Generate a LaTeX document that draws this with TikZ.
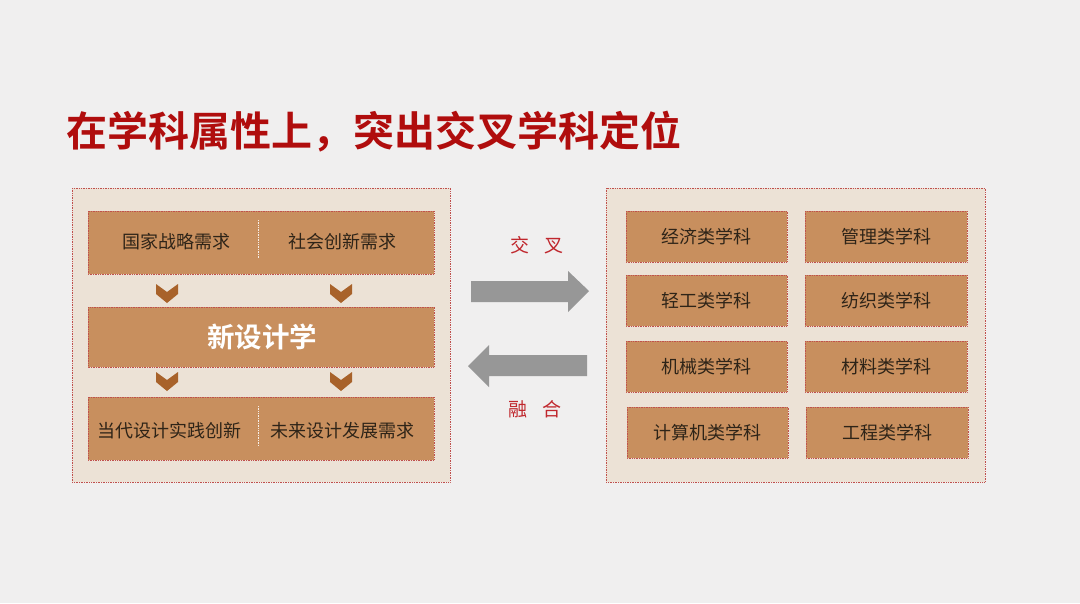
\documentclass[tikz,border=0pt]{standalone}
\usepackage{fontspec}
\newfontfamily\cjk{Noto Sans CJK SC}
\newfontfamily\cjkb{Noto Sans CJK SC Bold}
\usetikzlibrary{positioning}
\definecolor{bg}{HTML}{F0EFEF}
\definecolor{panel}{HTML}{ECE2D6}
\definecolor{boxc}{HTML}{C88F5E}
\definecolor{edge}{HTML}{C0504D}
\definecolor{chev}{HTML}{A8622A}
\definecolor{titler}{HTML}{B00D0D}
\definecolor{labr}{HTML}{C0272D}
\definecolor{arrg}{HTML}{979797}
\definecolor{txt}{HTML}{2E2418}
\tikzset{
  panelbox/.style={fill=panel,draw=edge,densely dotted,line width=0.7pt},
  cellbox/.style={fill=boxc,draw=edge,densely dotted,line width=0.7pt},
  celltext/.style={font=\cjk\fontsize{18}{21}\selectfont,text=txt,inner sep=0pt},
  divline/.style={draw=white!85!boxc,densely dotted,line width=0.7pt},
  chevron/.style={fill=chev,draw=none},
  bigarrow/.style={fill=arrg,draw=none},
  arrlabel/.style={font=\cjk\fontsize{19}{21}\selectfont,text=labr,inner sep=0pt}
}
\begin{document}
\begin{tikzpicture}[x=1pt,y=-1pt]
\useasboundingbox[fill=bg] (0,0) rectangle (1080,603);
% title
\node[anchor=west,inner sep=0pt,text=titler,font=\cjkb\fontsize{41}{44}\selectfont] (title) at (66,132) {在学科属性上，突出交叉学科定位};
% left panel
\draw[panelbox] (72,188) rectangle (450,482);
% top box
\draw[cellbox] (88,211) rectangle (434,274);
\draw[divline] (258,220) -- (258,258);
\node[celltext] (n1) at (176,242) {国家战略需求};
\node[celltext] (n2) at (342,242) {社会创新需求};
% middle box
\draw[cellbox] (88,307) rectangle (434,367);
\node[inner sep=0pt,text=white,font=\cjkb\fontsize{27.5}{30}\selectfont] (core) at (262,337) {新设计学};
% bottom box
\draw[cellbox] (88,397) rectangle (434,460);
\draw[divline] (258,406) -- (258,446);
\node[celltext] (n3) at (169,431) {当代设计实践创新};
\node[celltext] (n4) at (342,431) {未来设计发展需求};
% chevrons
\foreach \cx/\cy in {167/284, 341/284, 167/372, 341/372}{
  \fill[chevron] (\cx-11,\cy) -- (\cx,\cy+8) -- (\cx+11,\cy) -- (\cx+11,\cy+10) -- (\cx,\cy+19) -- (\cx-11,\cy+10) -- cycle;
}
% arrows
\fill[bigarrow] (471,281) -- (568,281) -- (568,271) -- (589,291) -- (568,312) -- (568,302) -- (471,302) -- cycle;
\fill[bigarrow] (587,355) -- (489,355) -- (489,345) -- (468,366) -- (489,387) -- (489,376) -- (587,376) -- cycle;
\node[arrlabel] (l1) at (537,245) {交\hspace{15pt}叉};
\node[arrlabel] (l2) at (535,409) {融\hspace{15pt}合};
% right panel
\draw[panelbox] (606,188) rectangle (985,482);
\draw[cellbox] (626,211) rectangle (787,262);
\node[celltext] (r1) at (706.5,237) {经济类学科};
\draw[cellbox] (805,211) rectangle (967,262);
\node[celltext] (r2) at (886,237) {管理类学科};
\draw[cellbox] (626,275) rectangle (787,326);
\node[celltext] (r3) at (706.5,301) {轻工类学科};
\draw[cellbox] (805,275) rectangle (967,326);
\node[celltext] (r4) at (886,301) {纺织类学科};
\draw[cellbox] (626,341) rectangle (787,392);
\node[celltext] (r5) at (706.5,367) {机械类学科};
\draw[cellbox] (805,341) rectangle (967,392);
\node[celltext] (r6) at (886,367) {材料类学科};
\draw[cellbox] (627,407) rectangle (788,458);
\node[celltext] (r7) at (707.5,433) {计算机类学科};
\draw[cellbox] (806,407) rectangle (968,458);
\node[celltext] (r8) at (887,433) {工程类学科};
\end{tikzpicture}
\end{document}
